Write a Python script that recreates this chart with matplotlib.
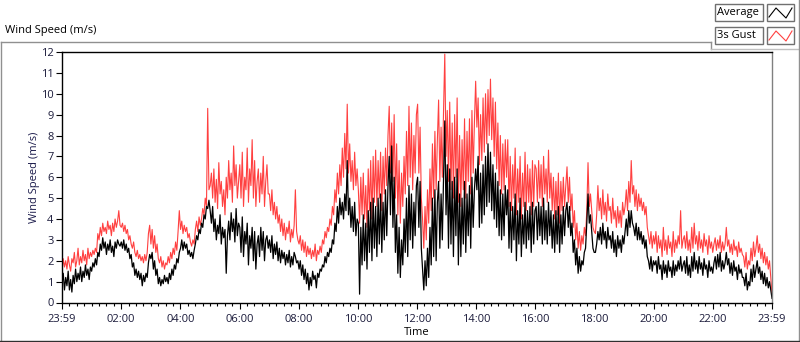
import numpy as np
import matplotlib
matplotlib.use("Agg")
import matplotlib.pyplot as plt
from matplotlib.lines import Line2D
from matplotlib.patches import Rectangle
from matplotlib.ticker import MultipleLocator, FixedLocator

plt.rcParams["font.family"] = ["Open Sans", "DejaVu Sans"]

# 2.5-minute samples, one row per hour (hours after 23:59 of the previous day)
gust = [
    1.5,2.1,1.7,2.0,1.6,2.2,1.8,1.5,2.1,1.9,2.4,1.7,2.0,2.6,1.8,2.2,1.9,2.5,2.0,2.3,1.8,2.6,2.1,2.4,
    2.2,2.5,2.3,2.6,2.4,3.3,3.0,3.6,3.2,3.8,3.4,3.6,3.3,3.9,3.5,3.7,3.2,3.8,3.4,4.0,3.6,3.9,4.4,3.7,
    3.6,3.8,3.4,3.7,3.3,3.5,3.0,3.2,2.8,2.6,2.9,2.4,2.2,2.5,2.1,2.3,2.0,2.2,1.9,2.3,2.0,2.4,3.3,3.7,
    2.8,3.5,2.6,3.2,2.4,2.8,2.1,1.9,2.2,1.7,2.0,1.6,1.9,1.8,2.2,1.9,2.4,2.1,2.6,2.3,2.9,2.5,3.4,4.4,
    3.5,3.9,3.3,3.7,3.4,3.6,3.1,3.3,2.9,2.7,3.0,2.8,3.5,3.9,3.4,4.1,3.7,4.0,4.5,4.2,5.0,4.6,9.3,5.4,
    5.6,6.2,5.0,6.4,4.8,5.9,4.5,6.7,5.2,5.8,4.6,5.4,4.2,6.0,5.0,6.8,5.4,6.2,4.8,7.5,5.6,6.6,5.0,5.8,
    6.6,5.0,7.2,4.6,6.0,5.4,7.4,4.8,6.4,5.6,7.8,5.0,6.8,4.6,5.8,6.4,4.8,6.2,5.2,7.0,4.6,5.8,6.6,5.2,
    5.2,4.4,5.4,4.2,4.8,4.0,4.6,3.8,4.2,3.4,4.0,3.2,3.8,3.0,3.6,3.3,3.9,2.9,3.5,3.1,3.7,5.4,3.4,3.0,
    2.8,3.2,2.5,3.0,2.4,2.9,2.2,2.7,2.3,2.6,2.1,2.5,2.2,2.8,2.0,2.5,2.3,2.7,2.4,3.0,2.8,3.4,3.1,3.6,
    3.4,4.0,3.7,4.6,4.2,5.4,4.8,6.2,5.2,6.6,5.6,7.4,6.0,8.1,6.4,9.5,6.2,7.6,5.8,6.8,5.4,7.2,5.6,6.4,
    5.4,3.8,6.0,4.2,6.2,4.0,5.6,3.6,6.4,4.4,6.8,4.0,7.0,4.8,7.3,4.6,6.8,5.0,7.2,4.4,7.0,5.2,7.4,5.6,
    8.0,9.4,6.2,8.6,5.8,9.0,5.0,7.6,4.2,6.8,3.8,6.2,4.6,7.0,5.2,8.2,5.6,9.4,6.0,8.6,5.4,8.0,6.2,9.0,
    9.5,6.2,8.4,5.0,4.0,2.6,4.6,3.0,5.4,3.8,6.4,4.4,7.6,5.0,8.2,5.4,7.8,9.7,5.8,8.4,6.0,9.2,11.9,7.0,
    9.2,5.8,9.6,5.4,8.6,5.0,9.0,6.0,9.8,4.8,8.0,4.6,7.8,5.4,8.8,5.0,8.2,5.8,8.8,5.2,9.2,6.2,8.6,10.6,
    8.4,9.8,6.6,9.0,6.8,9.8,7.2,10.0,7.6,10.2,8.0,10.7,7.8,9.8,7.0,9.6,6.4,8.6,5.6,8.0,5.2,7.6,5.4,7.8,
    6.0,7.8,4.6,7.0,4.4,6.6,5.0,7.4,4.2,6.4,4.8,7.0,4.0,6.2,4.6,7.2,4.4,6.6,4.8,6.4,4.2,6.8,4.6,6.6,
    6.4,4.8,6.8,5.0,6.6,4.6,7.0,5.2,6.4,4.8,7.3,5.0,6.2,4.4,6.0,4.0,5.8,4.2,6.2,3.8,5.8,4.4,6.0,4.6,
    5.6,6.5,4.8,6.0,4.4,5.2,3.6,4.4,3.0,3.8,2.6,3.4,2.5,3.2,2.8,3.6,3.2,4.4,6.7,4.6,5.2,4.4,3.6,3.4,
    3.3,4.2,5.6,4.4,5.0,4.0,5.4,4.2,4.8,3.9,5.2,4.4,4.6,3.8,5.0,4.0,4.4,3.6,4.6,3.8,4.4,3.6,4.8,4.2,
    4.6,5.4,4.4,5.8,4.8,6.8,5.2,5.6,4.6,5.4,4.4,5.2,4.6,5.0,4.4,4.8,4.2,4.6,3.6,3.2,2.8,3.4,2.6,3.2,
    2.8,3.4,2.4,3.2,2.6,3.0,2.2,3.6,2.5,3.0,2.3,3.2,2.6,2.9,2.2,3.4,2.4,3.0,2.6,3.2,2.8,4.4,2.6,3.0,
    3.2,2.6,3.4,2.5,3.0,2.4,3.6,2.6,3.8,2.8,3.2,2.5,3.4,2.6,3.0,2.4,3.3,2.7,3.0,2.3,3.2,2.6,2.9,2.4,
    2.8,3.1,2.5,3.0,2.6,3.2,2.4,2.9,2.5,2.8,3.6,2.7,3.0,2.4,2.8,2.3,3.0,2.5,2.7,2.2,2.9,2.4,2.6,2.3,
    2.2,1.7,2.4,1.6,2.0,1.8,2.6,2.0,2.9,2.2,2.6,3.2,2.4,2.8,2.1,2.6,1.9,2.4,1.8,2.2,1.6,2.0,1.2,0.4,
]

average = [
    0.9,1.4,0.6,1.2,0.8,1.5,0.6,1.1,0.5,1.3,0.9,1.6,1.0,1.4,1.1,1.7,1.0,1.5,1.2,1.8,1.3,1.6,1.1,1.7,
    1.5,1.9,1.7,2.1,1.8,2.4,2.2,2.8,2.5,3.1,2.6,2.9,2.3,2.8,2.5,3.0,2.4,2.7,2.2,2.9,2.6,3.0,2.8,2.7,
    2.9,2.6,3.0,2.5,2.8,2.4,2.6,2.1,2.3,1.7,1.9,1.3,1.6,1.2,1.5,1.1,1.4,0.8,1.3,1.0,1.4,1.2,1.9,2.3,
    2.1,2.4,1.6,2.0,1.3,1.6,0.9,1.2,0.8,1.1,0.9,1.3,1.0,1.2,0.9,1.4,1.1,1.6,1.3,1.8,1.6,2.1,1.9,2.4,
    2.6,3.0,2.5,2.9,2.6,2.8,2.3,2.5,2.2,2.4,2.1,2.5,2.8,3.2,3.0,3.5,3.3,3.8,3.6,4.2,4.0,4.6,4.5,4.9,
    4.4,3.8,4.6,3.4,4.0,3.0,3.7,3.3,4.2,2.8,3.6,3.1,3.5,1.4,3.2,3.9,3.0,4.3,3.4,4.0,2.9,4.5,3.2,3.8,
    3.6,2.4,4.1,2.2,3.4,2.8,3.8,1.8,3.2,2.6,3.6,2.0,3.4,1.6,2.8,3.2,2.2,3.6,2.5,3.4,2.0,3.0,3.2,2.6,
    3.0,2.4,3.2,2.1,2.8,2.3,2.9,2.0,2.6,1.9,2.5,2.1,2.4,1.8,2.3,1.9,2.5,1.7,2.2,1.8,2.4,2.2,1.9,2.0,
    1.6,2.0,1.3,1.8,1.1,1.6,0.9,1.4,0.6,1.2,0.8,1.5,1.1,1.3,0.7,1.4,1.2,1.6,1.5,1.8,1.7,2.2,1.9,2.4,
    2.2,2.6,2.4,3.0,2.8,3.8,3.4,4.6,3.8,5.0,4.2,4.8,4.0,5.2,4.4,6.8,4.2,5.0,3.6,4.6,3.4,4.8,3.2,4.0,
    3.8,0.4,3.6,1.8,4.2,2.0,3.8,1.6,4.4,2.4,4.8,2.0,5.0,2.6,4.6,2.2,5.0,2.8,5.2,2.4,4.8,3.0,5.4,3.2,
    5.6,7.0,4.2,7.5,3.6,6.0,2.4,4.2,1.4,3.6,1.2,3.0,1.8,4.0,2.4,5.0,2.2,5.6,3.0,5.2,2.6,4.8,3.2,5.6,
    6.0,3.6,5.8,2.6,1.6,0.6,2.0,0.8,2.6,1.2,3.6,1.8,5.0,2.2,5.4,2.0,4.8,5.8,2.6,5.2,3.0,6.0,8.7,4.2,
    6.6,2.6,6.4,2.8,5.8,2.2,6.0,3.2,6.4,1.8,5.2,2.2,5.0,2.8,5.8,2.4,5.2,3.2,5.6,2.6,6.0,3.6,5.4,6.4,
    5.4,7.0,3.6,6.2,3.8,6.6,4.2,7.0,4.6,7.6,4.8,7.2,4.4,6.6,4.0,6.2,3.6,5.8,3.2,5.4,3.0,5.2,3.2,5.6,
    4.2,5.4,2.6,4.8,2.4,4.6,3.0,5.2,2.0,4.4,2.8,5.0,2.2,4.2,2.8,4.8,2.6,4.4,3.0,4.6,2.4,4.8,2.8,4.4,
    4.6,3.0,4.8,3.2,4.6,2.8,5.0,3.0,4.4,2.8,4.8,3.2,4.4,2.6,4.2,2.4,4.4,2.8,4.6,2.4,4.2,2.8,4.6,3.2,
    4.4,4.8,3.6,4.6,3.2,3.8,2.4,3.0,1.8,2.6,1.4,2.2,1.5,2.0,1.8,2.4,2.6,3.8,5.2,3.8,4.2,3.4,2.6,2.4,
    2.4,2.8,3.4,3.0,3.6,2.8,3.8,3.0,3.4,2.6,3.6,3.0,3.2,2.6,3.4,2.4,3.0,2.2,3.2,2.6,3.0,2.4,3.2,2.8,
    3.4,4.0,3.2,4.4,3.6,4.4,3.8,3.6,3.2,3.8,3.0,3.6,3.0,3.4,2.8,3.2,2.6,3.0,2.2,2.0,1.6,2.2,1.5,2.0,
    1.8,2.0,1.4,2.2,1.6,1.8,1.1,2.0,1.4,1.8,1.2,2.0,1.5,1.7,1.2,2.0,1.3,1.8,1.5,2.0,1.6,2.2,1.5,1.8,
    2.0,1.4,2.2,1.3,1.8,1.2,2.2,1.5,2.4,1.6,2.0,1.4,2.2,1.6,1.9,1.3,2.1,1.6,1.8,1.2,2.0,1.5,1.7,1.4,
    1.9,2.2,1.6,2.3,1.7,2.4,1.5,2.0,1.6,1.9,2.4,1.8,2.1,1.4,1.9,1.3,2.0,1.5,1.7,1.1,1.8,1.4,1.6,1.2,
    1.2,0.8,1.4,0.6,1.0,0.8,1.6,1.0,1.8,1.2,1.6,2.0,1.4,1.7,1.1,1.5,0.9,1.4,0.8,1.2,0.7,1.0,0.6,0.2,
]

tick_hours = [0, 2, 4, 6, 8, 10, 12, 14, 16, 18, 20, 22, 24]
tick_labels = ["23:59", "02:00", "04:00", "06:00", "08:00", "10:00", "12:00",
               "14:00", "16:00", "18:00", "20:00", "22:00", "23:59"]
y_ticks = list(range(0, 13))
series_names = ["Average", "3s Gust"]

W, H = 800, 342
fig = plt.figure(figsize=(W / 100, H / 100), dpi=100)
fig.patch.set_facecolor("white")

def fx(px):
    return px / W

def fy(py):
    return 1 - py / H

ax = fig.add_axes([fx(62), fy(302.5), fx(772) - fx(62), fy(52) - fy(302.5)])
red = "#ff4040"
ax.plot(np.linspace(0, 24, len(gust)), gust, color=red, lw=0.8)
ax.plot(np.linspace(0, 24, len(average)), average, color="black", lw=0.9)

ax.set_xlim(0, 24)
ax.set_ylim(0, 12)
ax.xaxis.set_major_locator(FixedLocator(tick_hours))
ax.set_xticklabels(tick_labels)
ax.xaxis.set_minor_locator(MultipleLocator(0.25))
ax.yaxis.set_major_locator(FixedLocator(y_ticks))
ax.set_yticklabels([str(v) for v in y_ticks])

tick_color = "#1a1a3a"
ax.tick_params(axis="both", which="major", direction="out", length=4, width=0.8,
               labelsize=8, colors="black", labelcolor=tick_color, pad=2)
ax.tick_params(axis="x", which="minor", direction="out", length=2.5, width=0.8)
ax.tick_params(axis="x", which="major", length=4.5, pad=3.5)

for s in ["left", "bottom", "top"]:
    ax.spines[s].set_color("black")
    ax.spines[s].set_linewidth(1.0)
ax.spines["right"].set_color("#808080")
ax.spines["right"].set_linewidth(1.0)

ax.set_ylabel("Wind Speed (m/s)", fontsize=8, color="#1a1a4a", labelpad=1)
ax.set_xlabel("Time", fontsize=8, color="black", labelpad=2)

# outer panel frame
def seg(x0, y0, x1, y1, color, lw=1.0):
    fig.add_artist(Line2D([fx(x0), fx(x1)], [fy(y0), fy(y1)], color=color, lw=lw,
                          transform=fig.transFigure))

seg(0.5, 42, 711, 42, "#909090")
seg(711, 42, 711, 49, "#909090")
seg(711, 49, 799, 49, "#c0c0c0")
seg(799, 0, 799, 341, "#909090")
seg(0.5, 42, 0.5, 341, "#909090")
seg(0, 341, 800, 341, "#303030")

fig.text(fx(5), fy(31), "Wind Speed (m/s)", fontsize=8, color="black", va="center", ha="left")

# legend
rows = [(4, 21), (27, 44)]
colors = ["black", red]
for (y0, y1), name, c in zip(rows, series_names, colors):
    fig.add_artist(Rectangle((fx(715), fy(y1)), fx(763) - fx(715), fy(y0) - fy(y1),
                             transform=fig.transFigure, fill=False, ec="#707070", lw=1.0))
    fig.add_artist(Rectangle((fx(767), fy(y1)), fx(794) - fx(767), fy(y0) - fy(y1),
                             transform=fig.transFigure, fill=False, ec="#707070", lw=1.0))
    fig.text(fx(717), fy((y0 + y1) / 2), name, fontsize=8, color="black",
             va="center", ha="left")
    zx = [769, 776, 786, 792]
    zy = [y1 - 4, y0 + 4, y1 - 3, y0 + 4]
    fig.add_artist(Line2D([fx(v) for v in zx], [fy(v) for v in zy], color=c, lw=0.8,
                          transform=fig.transFigure))

fig.savefig("out.png", dpi=100)
